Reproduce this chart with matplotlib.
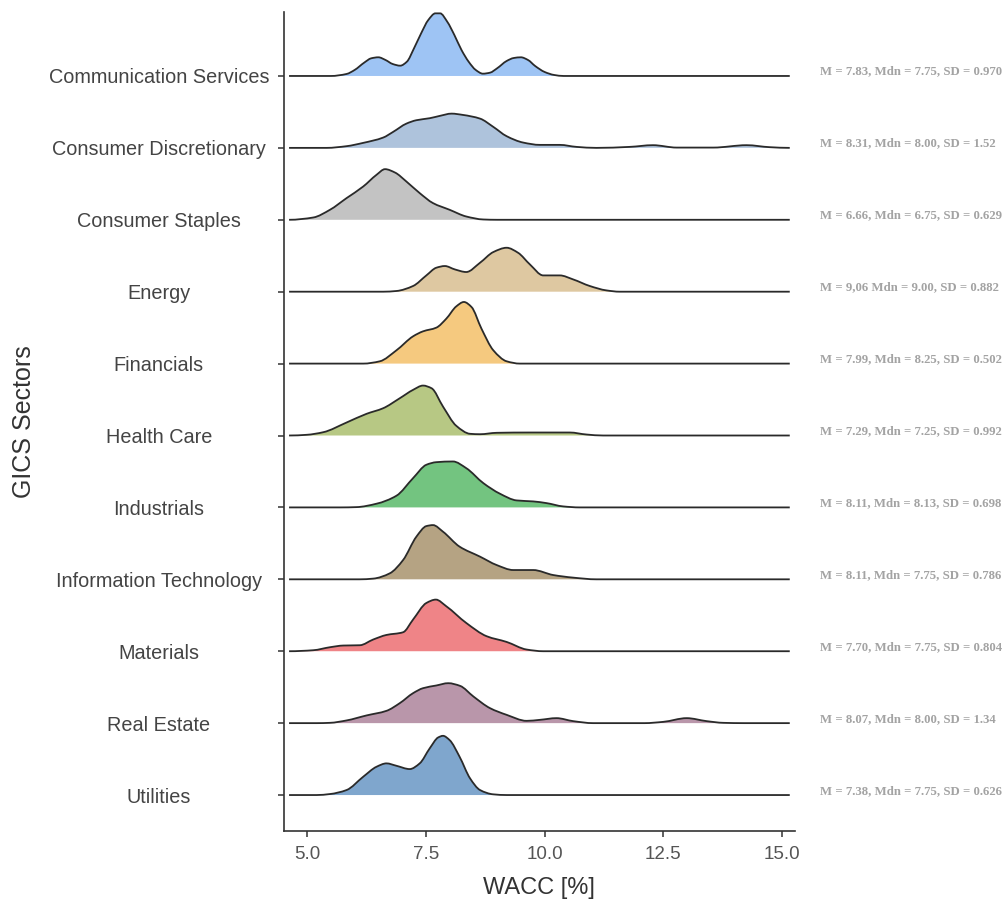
import matplotlib

matplotlib.use("Agg")
import matplotlib.pyplot as plt  # noqa: E402
from matplotlib.path import Path  # noqa: E402
from matplotlib.patches import PathPatch  # noqa: E402

plt.rcParams["font.family"] = ["Liberation Sans", "DejaVu Sans"]

# Sectors from bottom (row 0) to top
sectors = [
    "Utilities",
    "Real Estate",
    "Materials",
    "Information Technology",
    "Industrials",
    "Health Care",
    "Financials",
    "Energy",
    "Consumer Staples",
    "Consumer Discretionary",
    "Communication Services",
]

stats = [
    "M = 7.38, Mdn = 7.75, SD = 0.626",
    "M = 8.07, Mdn = 8.00, SD = 1.34",
    "M = 7.70, Mdn = 7.75, SD = 0.804",
    "M = 8.11, Mdn = 7.75, SD = 0.786",
    "M = 8.11, Mdn = 8.13, SD = 0.698",
    "M = 7.29, Mdn = 7.25, SD = 0.992",
    "M = 7.99, Mdn = 8.25, SD = 0.502",
    "M = 9,06 Mdn = 9.00, SD = 0.882",
    "M = 6.66, Mdn = 6.75, SD = 0.629",
    "M = 8.31, Mdn = 8.00, SD = 1.52",
    "M = 7.83, Mdn = 7.75, SD = 0.970",
]

colors = [
    "#7fa6cd",
    "#b996aa",
    "#ef8487",
    "#b5a383",
    "#73c480",
    "#b7c884",
    "#f5c97f",
    "#dec8a1",
    "#c3c3c3",
    "#aec3dc",
    "#9ec4f4",
]

# density curves (WACC %, density in arbitrary units)
utilities_x = [4.62, 5.2, 5.48, 5.83, 6.18, 6.46, 6.67, 6.88, 7.16, 7.37, 7.58, 7.76, 7.86, 8.0, 8.21, 8.43, 8.64, 8.92, 9.2, 15.16]
utilities_h = [0, 0, 1, 5, 18.3, 28.3, 31.7, 29.3, 26, 31.7, 46.7, 57.7, 59.3, 55, 38.3, 16.7, 5, 0.7, 0, 0]

real_estate_x = [4.62, 5.2, 5.48, 5.83, 6.25, 6.67, 6.95, 7.23, 7.44, 7.72, 7.97, 8.22, 8.5, 8.85, 9.2, 9.62, 9.9, 10.25, 10.6, 11.02, 12.1, 12.5, 12.99, 13.41, 13.76, 14.2, 15.16]
real_estate_h = [0, 0, 0.3, 2.7, 7.7, 12.3, 20, 30, 35, 37.7, 40, 37.3, 26.7, 15, 8.3, 2.3, 3.3, 5, 2, 0, 0, 1.3, 5, 2, 0.3, 0, 0]

materials_x = [4.62, 5.13, 5.48, 5.76, 6.11, 6.39, 6.67, 7.02, 7.23, 7.51, 7.71, 7.93, 8.35, 8.78, 9.2, 9.62, 9.97, 15.16]
materials_h = [0, 1, 4, 5.7, 6, 11.7, 16.3, 19, 31.7, 48.3, 51.7, 45, 28.3, 15, 9.3, 1.7, 0, 0]

info_tech_x = [4.62, 6.1, 6.39, 6.74, 7.02, 7.3, 7.51, 7.65, 7.86, 8.21, 8.64, 8.99, 9.34, 9.76, 10.18, 10.6, 11.09, 15.16]
info_tech_h = [0, 0, 0.7, 6, 19.3, 42.7, 53.3, 54.3, 47.7, 32.7, 22.7, 14.3, 9.3, 9.3, 4.3, 1.7, 0, 0]

industrials_x = [4.62, 5.7, 6.04, 6.46, 6.88, 7.23, 7.51, 7.72, 8.07, 8.35, 8.71, 9.06, 9.41, 9.76, 10.04, 10.39, 10.74, 15.16]
industrials_h = [0, 0, 0.3, 3.7, 11.7, 29.3, 42.7, 45.3, 46, 39.3, 24.3, 13.7, 7, 6, 4.3, 1, 0, 0]

health_care_x = [4.62, 4.99, 5.34, 5.83, 6.25, 6.6, 6.95, 7.23, 7.44, 7.62, 7.86, 8.14, 8.43, 8.64, 8.99, 9.69, 10.53, 10.88, 11.23, 15.16]
health_care_h = [0, 0.7, 3.3, 13, 21.7, 27.3, 37.3, 45.7, 50, 47.3, 29, 9.7, 1.7, 1.3, 2.7, 3, 3, 1, 0, 0]

financials_x = [4.62, 6.18, 6.53, 6.88, 7.23, 7.44, 7.72, 7.93, 8.14, 8.3, 8.46, 8.67, 8.92, 9.2, 9.48, 15.16]
financials_h = [0, 0, 2.3, 13.3, 27.3, 32.3, 36, 45, 57.3, 61.7, 56.7, 35, 13.3, 2.3, 0, 0]

energy_x = [4.62, 6.6, 6.88, 7.23, 7.51, 7.72, 7.9, 8.11, 8.35, 8.64, 8.92, 9.2, 9.44, 9.69, 9.97, 10.32, 10.6, 10.95, 11.3, 11.58, 15.16]
energy_h = [0, 0, 0.7, 5.7, 16.3, 24, 25.7, 22.3, 19.7, 29, 39.7, 44, 39, 27.3, 16.3, 16.3, 12.3, 5.7, 1.3, 0, 0]

staples_x = [4.62, 5.13, 5.48, 5.83, 6.18, 6.46, 6.64, 6.85, 7.09, 7.37, 7.65, 8.0, 8.35, 8.71, 9.0, 15.16]
staples_h = [0, 2.3, 10, 21.7, 33.3, 45, 50.7, 47.3, 38.3, 26.7, 16.7, 10, 3.3, 0.3, 0, 0]

discretionary_x = [4.62, 5.41, 5.83, 6.18, 6.6, 6.81, 7.09, 7.3, 7.58, 7.79, 8.04, 8.28, 8.64, 8.92, 9.2, 9.55, 9.9, 10.32, 10.67, 11.09, 11.79, 12.28, 12.78, 13.55, 14.25, 14.74, 15.16]
discretionary_h = [0, 0, 1.7, 5, 10.3, 16, 24.3, 27.7, 29.7, 32, 34.3, 33, 29.3, 21, 11.7, 5.3, 3, 3, 1, 0, 1, 2.7, 0.3, 0.3, 2.7, 0.7, 0]

communication_x = [4.62, 5.5, 5.83, 6.0, 6.2, 6.35, 6.5, 6.65, 6.8, 6.96, 7.1, 7.25, 7.4, 7.55, 7.7, 7.8, 7.95, 8.1, 8.25, 8.4, 8.55, 8.7, 8.85, 9.0, 9.2, 9.35, 9.5, 9.65, 9.8, 10.0, 10.2, 10.4, 15.16]
communication_h = [0, 0, 2, 6, 13.3, 17.7, 18.7, 16, 12, 10.3, 14.3, 27.7, 42.7, 56, 62.7, 62.7, 54.3, 41, 26, 14.3, 6, 2.3, 3.3, 7.7, 15, 18, 18.7, 16, 10, 4, 1, 0, 0]

curves_x = [utilities_x, real_estate_x, materials_x, info_tech_x, industrials_x,
            health_care_x, financials_x, energy_x, staples_x, discretionary_x,
            communication_x]
curves_h = [utilities_h, real_estate_h, materials_h, info_tech_h, industrials_h,
            health_care_h, financials_h, energy_h, staples_h, discretionary_h,
            communication_h]

RIDGE_SCALE = 1 / 72.0


def _pchip_slopes(xs, ys):
    # monotone tangents so the curve never dips below the baseline
    n = len(xs)
    d = [(ys[i + 1] - ys[i]) / (xs[i + 1] - xs[i]) for i in range(n - 1)]
    m = [0.0] * n
    for i in range(1, n - 1):
        if d[i - 1] * d[i] > 0:
            h0 = xs[i] - xs[i - 1]
            h1 = xs[i + 1] - xs[i]
            w1 = 2 * h1 + h0
            w2 = h1 + 2 * h0
            m[i] = (w1 + w2) / (w1 / d[i - 1] + w2 / d[i])
    return m


def _smooth_path(xs, ys, close_at=None):
    m = _pchip_slopes(xs, ys)
    verts = [(xs[0], ys[0])]
    codes = [Path.MOVETO]
    for i in range(len(xs) - 1):
        dx = (xs[i + 1] - xs[i]) / 3
        verts += [
            (xs[i] + dx, ys[i] + m[i] * dx),
            (xs[i + 1] - dx, ys[i + 1] - m[i + 1] * dx),
            (xs[i + 1], ys[i + 1]),
        ]
        codes += [Path.CURVE4] * 3
    if close_at is not None:
        verts += [(xs[-1], close_at), (xs[0], close_at), (xs[0], ys[0])]
        codes += [Path.LINETO, Path.LINETO, Path.CLOSEPOLY]
    return Path(verts, codes)


fig = plt.figure(figsize=(10.03, 9.07), dpi=100)
ax = fig.add_axes([0.283, 0.0838, 0.5096, 0.903])

for row, (xs, hs, color) in enumerate(zip(curves_x, curves_h, colors)):
    ys = [row + h * RIDGE_SCALE for h in hs]
    z = 100 - 2 * row
    ax.add_patch(PathPatch(_smooth_path(xs, ys, close_at=row), facecolor=color,
                           edgecolor="none", zorder=z))
    ax.add_patch(PathPatch(_smooth_path(xs, ys), facecolor="none",
                           edgecolor="#2a2a2a", linewidth=1.3, zorder=z + 1,
                           capstyle="butt"))
    ax.text(15.8, row + 0.06, stats[row], ha="left", va="center",
            family=["Liberation Serif", "DejaVu Serif"], fontweight="bold",
            fontsize=9.2, color="#a3a3a3", clip_on=False)

ax.set_xlim(4.51, 15.27)
ax.set_ylim(-0.5, 10.89)
ax.set_xticks([5.0, 7.5, 10.0, 12.5, 15.0])
ax.set_xticklabels(["5.0", "7.5", "10.0", "12.5", "15.0"])
ax.set_yticks(range(len(sectors)))
ax.set_yticklabels(sectors, ha="center")

for side in ("top", "right"):
    ax.spines[side].set_visible(False)
for side in ("left", "bottom"):
    ax.spines[side].set_color("#333333")
    ax.spines[side].set_linewidth(1.2)

ax.tick_params(axis="both", direction="out", length=4, width=1.1,
               color="#333333")
ax.tick_params(axis="y", labelsize=14.3, labelcolor="#444444", pad=86)
ax.tick_params(axis="x", labelsize=13.5, labelcolor="#555555", pad=7)

ax.set_xlabel("WACC [%]", fontsize=17, color="#333333", labelpad=10)
ax.set_ylabel("GICS Sectors", fontsize=18, color="#333333")
ax.yaxis.set_label_coords(-0.485, 0.5)

fig.savefig("out.png", dpi=100)
